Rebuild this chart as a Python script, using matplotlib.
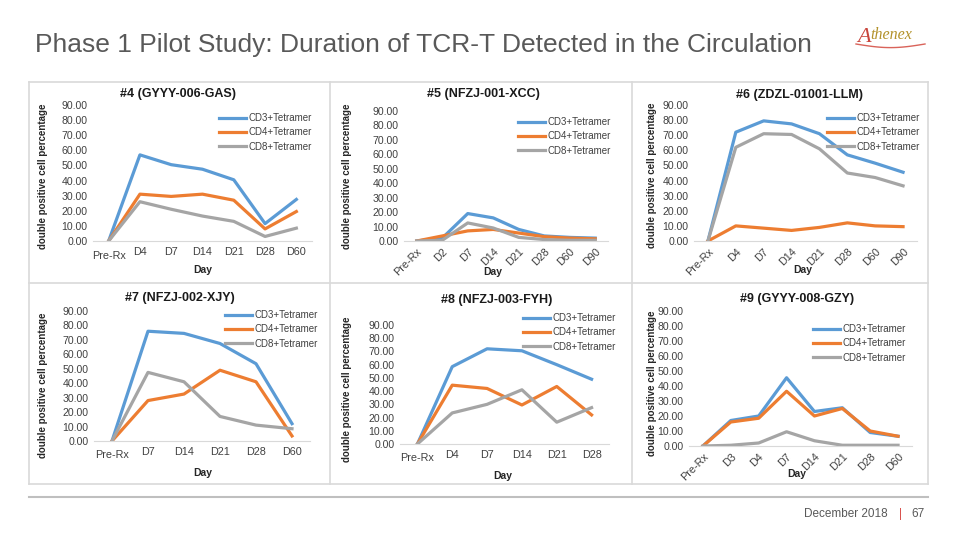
import matplotlib
matplotlib.use("Agg")
import matplotlib.pyplot as plt
import numpy as np
from matplotlib.lines import Line2D

plt.rcParams['font.family'] = ['Liberation Sans', 'DejaVu Sans']

W, H = 960, 540

# ---- data ----
series_names = ['CD3+Tetramer', 'CD4+Tetramer', 'CD8+Tetramer']
colors = ['#5B9BD5', '#ED7D31', '#A5A5A5']

p4_days = ['Pre-Rx', 'D4', 'D7', 'D14', 'D21', 'D28', 'D60']
p4_cd3 = [0, 57.0, 50.5, 47.5, 40.5, 11.5, 27.5]
p4_cd4 = [0, 31.0, 29.5, 31.0, 27.0, 8.0, 19.5]
p4_cd8 = [0, 26.0, 21.0, 16.5, 13.0, 3.0, 8.5]

p5_days = ['Pre-Rx', 'D2', 'D7', 'D14', 'D21', 'D28', 'D60', 'D90']
p5_cd3 = [0, 2.0, 19.0, 16.0, 8.0, 3.5, 2.5, 2.0]
p5_cd4 = [0, 3.5, 7.0, 8.0, 5.5, 3.0, 2.0, 1.5]
p5_cd8 = [0, 0.5, 12.5, 9.0, 2.5, 1.0, 0.5, 0.5]

p6_days = ['Pre-Rx', 'D4', 'D7', 'D14', 'D21', 'D28', 'D60', 'D90']
p6_cd3 = [0, 72.0, 79.5, 77.5, 71.0, 57.0, 51.5, 45.5]
p6_cd4 = [0, 10.0, 8.5, 7.0, 9.0, 12.0, 10.0, 9.5]
p6_cd8 = [0, 62.0, 71.0, 70.5, 61.0, 45.0, 42.0, 36.5]

p7_days = ['Pre-Rx', 'D7', 'D14', 'D21', 'D28', 'D60']
p7_cd3 = [0, 76.0, 74.5, 67.5, 53.5, 12.0]
p7_cd4 = [0, 28.0, 32.5, 49.0, 41.0, 3.5]
p7_cd8 = [0, 47.5, 41.0, 17.0, 11.0, 8.5]

p8_days = ['Pre-Rx', 'D4', 'D7', 'D14', 'D21', 'D28']
p8_cd3 = [0, 58.5, 72.0, 70.5, 60.0, 49.0]
p8_cd4 = [0, 44.5, 42.0, 29.5, 43.5, 22.0]
p8_cd8 = [0, 23.5, 30.0, 41.0, 16.5, 27.5]

p9_days = ['Pre-Rx', 'D3', 'D4', 'D7', 'D14', 'D21', 'D28', 'D60']
p9_cd3 = [0, 17.0, 20.0, 45.5, 23.0, 25.5, 9.0, 6.5]
p9_cd4 = [0, 16.0, 18.5, 36.5, 20.0, 25.0, 10.0, 6.5]
p9_cd8 = [0, 0.5, 2.0, 9.5, 3.5, 0.5, 0.5, 0.5]

# panel layout in pixels: axes box (x0, x1, ytop, ybottom), title, legend, ylabel, xlabel, rotated ticks
panels = [
    dict(title='#4 (GYYY-006-GAS)', days=p4_days, vals=[p4_cd3, p4_cd4, p4_cd8],
         box=(93, 312, 105, 241), tpos=(178, 94), leg=(219, 113), ylab=(43, 176), xlab=(203, 270), rot=False),
    dict(title='#5 (NFZJ-001-XCC)', days=p5_days, vals=[p5_cd3, p5_cd4, p5_cd8],
         box=(404, 608, 111, 241), tpos=(483, 94), leg=(518, 117), ylab=(347, 176), xlab=(493, 272), rot=True),
    dict(title='#6 (ZDZL-01001-LLM)', days=p6_days, vals=[p6_cd3, p6_cd4, p6_cd8],
         box=(694, 917, 105, 241), tpos=(800, 95), leg=(827, 113), ylab=(652, 175), xlab=(803, 270), rot=True),
    dict(title='#7 (NFZJ-002-XJY)', days=p7_days, vals=[p7_cd3, p7_cd4, p7_cd8],
         box=(94, 310, 311, 441), tpos=(180, 298), leg=(225, 310), ylab=(43, 385), xlab=(203, 473), rot=False),
    dict(title='#8 (NFZJ-003-FYH)', days=p8_days, vals=[p8_cd3, p8_cd4, p8_cd8],
         box=(400, 609, 325, 444), tpos=(497, 300), leg=(523, 313), ylab=(347, 389), xlab=(503, 476), rot=False),
    dict(title='#9 (GYYY-008-GZY)', days=p9_days, vals=[p9_cd3, p9_cd4, p9_cd8],
         box=(689, 912, 311, 446), tpos=(797, 299), leg=(813, 324), ylab=(652, 383), xlab=(797, 474), rot=True),
]


def fx(x):
    return x / W


def fy(y):
    return 1 - y / H


fig = plt.figure(figsize=(9.6, 5.4), dpi=100)
fig.patch.set_facecolor('white')

# panel frames
frame_c = '#d9d9d9'
for (x0, y0, x1, y1) in [(29, 82, 928, 82), (29, 484, 928, 484), (29, 283, 928, 283),
                         (29, 82, 29, 484), (330, 82, 330, 484), (632, 82, 632, 484), (928, 82, 928, 484)]:
    fig.add_artist(Line2D([fx(x0), fx(x1)], [fy(y0), fy(y1)], color=frame_c, lw=1.2))
fig.add_artist(Line2D([fx(29), fx(928)], [fy(497), fy(497)], color='#bfbfbf', lw=1.5))

for p in panels:
    x0, x1, yt, yb = p['box']
    ax = fig.add_axes([fx(x0), fy(yb), fx(x1) - fx(x0), (yb - yt) / H])
    n = len(p['days'])
    xs = np.arange(n)
    for name, v, c in zip(series_names, p['vals'], colors):
        ax.plot(xs, v, color=c, lw=2.3, label=name, solid_joinstyle='round')
    ax.set_xlim(-0.5, n - 0.5)
    ax.set_ylim(0, 90)
    ax.set_yticks(np.arange(0, 91, 10))
    ax.set_yticklabels(['%.2f' % t for t in np.arange(0, 91, 10)], fontsize=7.6, color='#404040')
    ax.set_xticks(xs)
    if p['rot']:
        ax.set_xticklabels(p['days'], rotation=45, ha='right', rotation_mode='anchor',
                           fontsize=7.8, color='#404040')
    else:
        ax.set_xticklabels(p['days'], fontsize=7.8, color='#404040')
        # Pre-Rx label sits a little lower in the slide
        ax.get_xticklabels()[0].set_y(-0.03)
    ax.tick_params(length=0, pad=4)
    for s in ['top', 'right', 'left']:
        ax.spines[s].set_visible(False)
    ax.spines['bottom'].set_color('#d9d9d9')
    ax.patch.set_alpha(0)

    leg = fig.legend(*ax.get_legend_handles_labels(), loc='upper left',
                     bbox_to_anchor=(fx(p['leg'][0]), fy(p['leg'][1])),
                     frameon=False, fontsize=7, handlelength=2.8, handletextpad=0.2,
                     labelspacing=0.45, borderpad=0, borderaxespad=0)
    for t in leg.get_texts():
        t.set_color('#404040')

    fig.text(fx(p['tpos'][0]), fy(p['tpos'][1]), p['title'], ha='center', va='center',
             fontsize=9, fontweight='bold', color='#1a1a1a')
    fig.text(fx(p['ylab'][0]), fy(p['ylab'][1]), 'double positive cell percentage', rotation=90,
             ha='center', va='center', fontsize=7, fontweight='bold', color='#262626')
    fig.text(fx(p['xlab'][0]), fy(p['xlab'][1]), 'Day', ha='center', va='center',
             fontsize=7.5, fontweight='bold', color='#262626')

# slide title
fig.text(fx(35), fy(45), 'Phase 1 Pilot Study: Duration of TCR-T Detected in the Circulation',
         ha='left', va='center', fontsize=19, color='#595959')

# logo
fig.text(fx(857), fy(37), 'A', ha='left', va='center', fontsize=16, color='#c9463d',
         family='Liberation Serif', style='italic')
fig.text(fx(870), fy(35), 'thenex', ha='left', va='center', fontsize=11.5, color='#b3922b',
         family='Liberation Serif', style='italic')
arc_x = np.linspace(856, 925, 40)
arc_y = 44 + 6 * np.sin((arc_x - 856) / 69 * np.pi) * 0.6
fig.add_artist(Line2D(fx(arc_x), fy(arc_y), color='#d9635a', lw=1.0))

# footer
fig.text(fx(888), fy(514), 'December 2018', ha='right', va='center', fontsize=8.5, color='#595959')
fig.text(fx(900), fy(514), '|', ha='center', va='center', fontsize=8.5, color='#d9534f')
fig.text(fx(925), fy(514), '67', ha='right', va='center', fontsize=8.5, color='#595959')

fig.savefig('out.png', dpi=100, facecolor='white')
